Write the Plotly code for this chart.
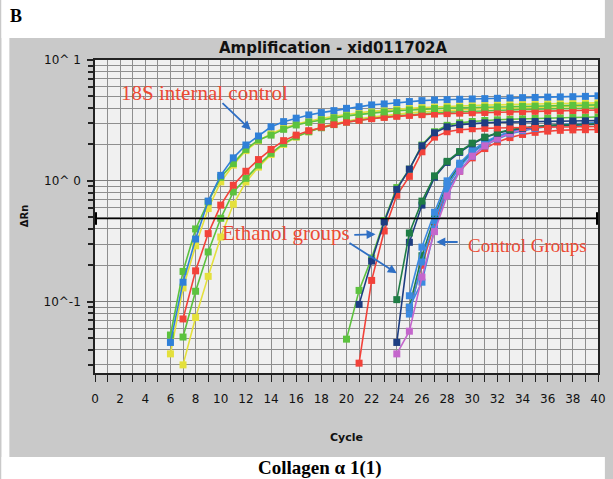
import plotly.graph_objects as go

# ---------------- data ----------------
# 18S internal control, group A (first point at cycle 6)
s18a_start = 6
s18a_blue = [0.046, 0.145, 0.33, 0.68, 1.11, 1.55, 1.98, 2.35, 2.8, 3.09, 3.3, 3.51, 3.67, 3.81,
             3.98, 4.11, 4.25, 4.33, 4.44, 4.53, 4.61, 4.67, 4.7, 4.73, 4.76, 4.79, 4.82, 4.85,
             4.88, 4.9, 4.93, 4.95, 4.97, 5.0, 5.05]
s18a_green = [0.053, 0.178, 0.40, 0.67, 1.07, 1.39, 1.82, 2.18, 2.39, 2.67, 2.9, 3.05, 3.2, 3.32,
              3.45, 3.55, 3.65, 3.72, 3.8, 3.86, 3.92, 3.97, 4.0, 4.03, 4.05, 4.07, 4.09, 4.11,
              4.13, 4.15, 4.17, 4.19, 4.21, 4.23, 4.25]
s18a_yellow = [0.037, 0.13, 0.29, 0.59, 0.98, 1.35, 1.78, 2.15, 2.45, 2.72, 2.95, 3.12, 3.28, 3.42,
               3.55, 3.66, 3.76, 3.85, 3.92, 3.98, 4.04, 4.09, 4.13, 4.17, 4.2, 4.23, 4.26, 4.28,
               4.3, 4.32, 4.34, 4.36, 4.38, 4.4, 4.42]
# 18S internal control, group B (first point at cycle 7)
s18b_start = 7
s18b_red = [0.072, 0.18, 0.366, 0.63, 0.92, 1.2, 1.5, 1.82, 2.15, 2.39, 2.6, 2.78, 2.93, 3.06,
            3.17, 3.27, 3.35, 3.42, 3.48, 3.53, 3.57, 3.6, 3.63, 3.66, 3.68, 3.7, 3.72, 3.74,
            3.76, 3.78, 3.8, 3.82, 3.84, 3.86]
s18b_green = [0.051, 0.122, 0.258, 0.49, 0.81, 1.05, 1.35, 1.69, 2.04, 2.32, 2.55, 2.75, 2.92, 3.06,
              3.18, 3.29, 3.38, 3.46, 3.53, 3.59, 3.64, 3.69, 3.73, 3.77, 3.8, 3.83, 3.86, 3.89,
              3.91, 3.93, 3.95, 3.97, 3.99, 4.01]
s18b_yellow = [0.030, 0.074, 0.162, 0.343, 0.64, 0.98, 1.3, 1.65, 2.0, 2.3, 2.55, 2.77, 2.96, 3.12,
               3.26, 3.38, 3.48, 3.57, 3.65, 3.72, 3.78, 3.83, 3.87, 3.91, 3.95, 3.98, 4.01, 4.04,
               4.06, 4.08, 4.1, 4.12, 4.14, 4.16]

# Ethanol groups, cluster 1
eth1_green_start = 20
eth1_green = [0.049, 0.124, 0.23, 0.47, 0.88, 1.25, 1.98, 2.55, 2.88, 3.02, 3.1, 3.16, 3.2, 3.23,
              3.26, 3.28, 3.3, 3.32, 3.34, 3.36, 3.38]
eth1_start = 21
eth1_navy = [0.095, 0.217, 0.457, 0.85, 1.25, 1.95, 2.5, 2.8, 2.92, 2.98, 3.02, 3.05, 3.07, 3.09,
             3.1, 3.11, 3.12, 3.13, 3.14, 3.15]
eth1_red = [0.031, 0.15, 0.385, 0.76, 1.09, 1.74, 2.3, 2.55, 2.65, 2.7, 2.72, 2.74, 2.75, 2.76,
            2.77, 2.78, 2.79, 2.8, 2.81, 2.82]

# Ethanol groups, cluster 2
eth2_start = 24
eth2_dkgreen = [0.104, 0.37, 0.68, 1.1, 1.45, 1.75, 2.05, 2.3, 2.5, 2.65, 2.75, 2.82, 2.87, 2.9,
                2.93, 2.95, 2.97]
eth2_navy = [0.046, 0.31, 0.63, 1.07, 1.42, 1.72, 2.02, 2.28, 2.48, 2.62, 2.72, 2.8, 2.85, 2.88,
             2.9, 2.92, 2.94]
eth2_magenta = [0.037, 0.057, 0.16, 0.38, 0.75, 1.2, 1.6, 1.95, 2.25, 2.48, 2.65, 2.76, 2.83, 2.88,
                2.92, 2.95, 2.97]

# Control groups
ctrl_start = 25
ctrl_blue1 = [0.112, 0.283, 0.55, 1.0, 1.4, 1.78, 2.1, 2.35, 2.55, 2.7, 2.8, 2.87, 2.92, 2.96, 3.0, 3.03]
ctrl_blue2 = [0.079, 0.213, 0.47, 0.9, 1.3, 1.7, 2.02, 2.3, 2.5, 2.65, 2.75, 2.82, 2.88, 2.92, 2.95, 2.98]
ctrl_blue3 = [0.09, 0.145, 0.4, 0.82, 1.22, 1.6, 1.95, 2.22, 2.45, 2.6, 2.72, 2.8, 2.86, 2.9, 2.93, 2.96]
ctrl_green = [0.09, 0.24, 0.5, 0.95, 1.35, 1.72, 2.05, 2.32, 2.52, 2.68, 2.78, 2.85, 2.9, 2.94, 2.97, 3.0]
ctrl_red = [0.085, 0.2, 0.44, 0.85, 1.2, 1.55, 1.85, 2.1, 2.28, 2.42, 2.52, 2.58, 2.62, 2.64, 2.65, 2.66]

threshold = 0.488

x_ticks = list(range(0, 41, 2))
y_major = [0.1, 1, 10]
y_major_text = ["10^-1", "10^ 0", "10^ 1"]

# ---------------- colours ----------------
C_BLUE = "#2f80d8"
C_GREEN = "#5cc23e"
C_YELLOW = "#e4e03c"
C_RED = "#f2423a"
C_NAVY = "#1d3d82"
C_DKGREEN = "#1f7d45"
C_MAGENTA = "#c466cc"
C_CTRL = "#3c8ae0"

series = [
    (ctrl_start, ctrl_red, C_RED),
    (ctrl_start, ctrl_green, C_DKGREEN),
    (ctrl_start, ctrl_blue3, C_CTRL),
    (ctrl_start, ctrl_blue2, C_CTRL),
    (ctrl_start, ctrl_blue1, C_CTRL),
    (eth2_start, eth2_magenta, C_MAGENTA),
    (eth2_start, eth2_navy, C_NAVY),
    (eth2_start, eth2_dkgreen, C_DKGREEN),
    (eth1_start, eth1_red, C_RED),
    (eth1_green_start, eth1_green, C_GREEN),
    (eth1_start, eth1_navy, C_NAVY),
    (s18b_start, s18b_yellow, C_YELLOW),
    (s18b_start, s18b_green, C_GREEN),
    (s18b_start, s18b_red, C_RED),
    (s18a_start, s18a_yellow, C_YELLOW),
    (s18a_start, s18a_green, C_GREEN),
    (s18a_start, s18a_blue, C_BLUE),
]

fig = go.Figure()
for start, vals, col in series:
    fig.add_trace(go.Scatter(
        x=list(range(start, start + len(vals))), y=vals, mode="lines+markers",
        line=dict(color=col, width=1.6),
        marker=dict(symbol="square", size=7, color=col),
        showlegend=False, hoverinfo="skip"))

# threshold end marks
fig.add_trace(go.Scatter(x=[0, 40], y=[threshold, threshold], mode="markers",
                         marker=dict(symbol="line-ns", size=9, line=dict(width=4, color="black")),
                         cliponaxis=False, showlegend=False, hoverinfo="skip"))

# minor log ticks
y_minor = []
for p in (0.01, 0.1, 1):
    for k in range(2, 10):
        y_minor.append(round(k * p, 4))

PANEL = "#c9c9c9"
L, R, T, B = 95, 7, 60, 106
W, H = 613, 479
pw, ph = W - L - R, H - T - B

def px2paper_x(px):
    return (px - L) / pw

def px2paper_y(py):
    return (H - B - py) / ph

# white surroundings of the grey instrument panel
for (x0, x1, y0, y1) in [(0, 613, 0, 38), (0, 613, 457, 479), (0, 8, 0, 479)]:
    fig.add_shape(type="rect", xref="paper", yref="paper", layer="below",
                  x0=px2paper_x(x0), x1=px2paper_x(x1), y0=px2paper_y(y1), y1=px2paper_y(y0),
                  fillcolor="white", line=dict(width=0))
fig.add_shape(type="line", xref="x", yref="y", x0=0, x1=40, y0=threshold, y1=threshold,
              line=dict(color="black", width=1.6))

serif = "Liberation Serif"
sans = "DejaVu Sans"
txt_red = "#ec4a34"
arrow_blue = "#2f6fc4"

def label(text, px, py, family, size, color, **kw):
    return dict(text=text, xref="paper", yref="paper", x=px2paper_x(px), y=px2paper_y(py),
                xanchor="center", yanchor="middle", showarrow=False,
                font=dict(family=family, size=size, color=color), **kw)

ann = [
    label("<b>B</b>", 15, 16, serif, 18, "black"),
    label("<b>Amplification - xid011702A</b>", 337, 48, sans, 15, "#111"),
    label("<b>ΔRn</b>", 23, 216, sans, 10, "#111", textangle=-90),
    label("<b>Cycle</b>", 350, 437, sans, 11, "#111"),
    label("<b>Collagen α 1(1)</b>", 324, 468, serif, 19, "black"),
    label("18S internal control", 206, 93, serif, 21, txt_red),
    label("Ethanol groups", 289, 233, serif, 21, txt_red),
    label("Control Groups", 534, 245, serif, 19, txt_red),
]
# arrows (data coords; y in log10 units)
arrows = [
    (12.39, 0.421, 10.02, 0.655),
    (22.31, -0.442, 20.5, -0.448),
    (24.0, -0.765, 20.12, -0.506),
    (27.14, -0.506, 28.96, -0.506),
]
for x1, y1, x0, y0 in arrows:
    ann.append(dict(text="", x=x1, y=y1, ax=x0, ay=y0, xref="x", yref="y", axref="x", ayref="y",
                    showarrow=True, arrowhead=2, arrowsize=1, arrowwidth=1.8, arrowcolor=arrow_blue))

fig.update_layout(
    width=W, height=H, margin=dict(l=L, r=R, t=T, b=B),
    paper_bgcolor=PANEL, plot_bgcolor="#f0f0f0",
    annotations=ann,
    xaxis=dict(range=[0, 40], tickvals=x_ticks, ticks="outside", ticklen=7, tickwidth=1,
               tickcolor="#222", showline=True, mirror=True, linecolor="#222", linewidth=1.5,
               showgrid=True, gridcolor="#8e8e8e", gridwidth=1.3, zeroline=False,
               tickfont=dict(family=sans, size=12, color="#111"), ticklabelstandoff=7,
               minor=dict(dtick=1, tick0=0, ticks="outside", ticklen=7, tickcolor="#222",
                          showgrid=True, gridcolor="#8e8e8e", gridwidth=1.3)),
    yaxis=dict(type="log", range=[-1.59, 1.0], tickvals=y_major, ticktext=y_major_text,
               ticks="outside", ticklen=6, tickwidth=1.5, tickcolor="#222",
               showline=True, mirror=True, linecolor="#222", linewidth=1.5,
               showgrid=True, gridcolor="#7e7e7e", gridwidth=1.3, zeroline=False,
               tickfont=dict(family=sans, size=12, color="#111"), ticklabelstandoff=4,
               minor=dict(tickmode="array", tickvals=y_minor, ticks="outside", ticklen=5,
                          tickcolor="#222", showgrid=True, gridcolor="#8e8e8e", gridwidth=1.3)),
)

fig.write_html("out.html")
